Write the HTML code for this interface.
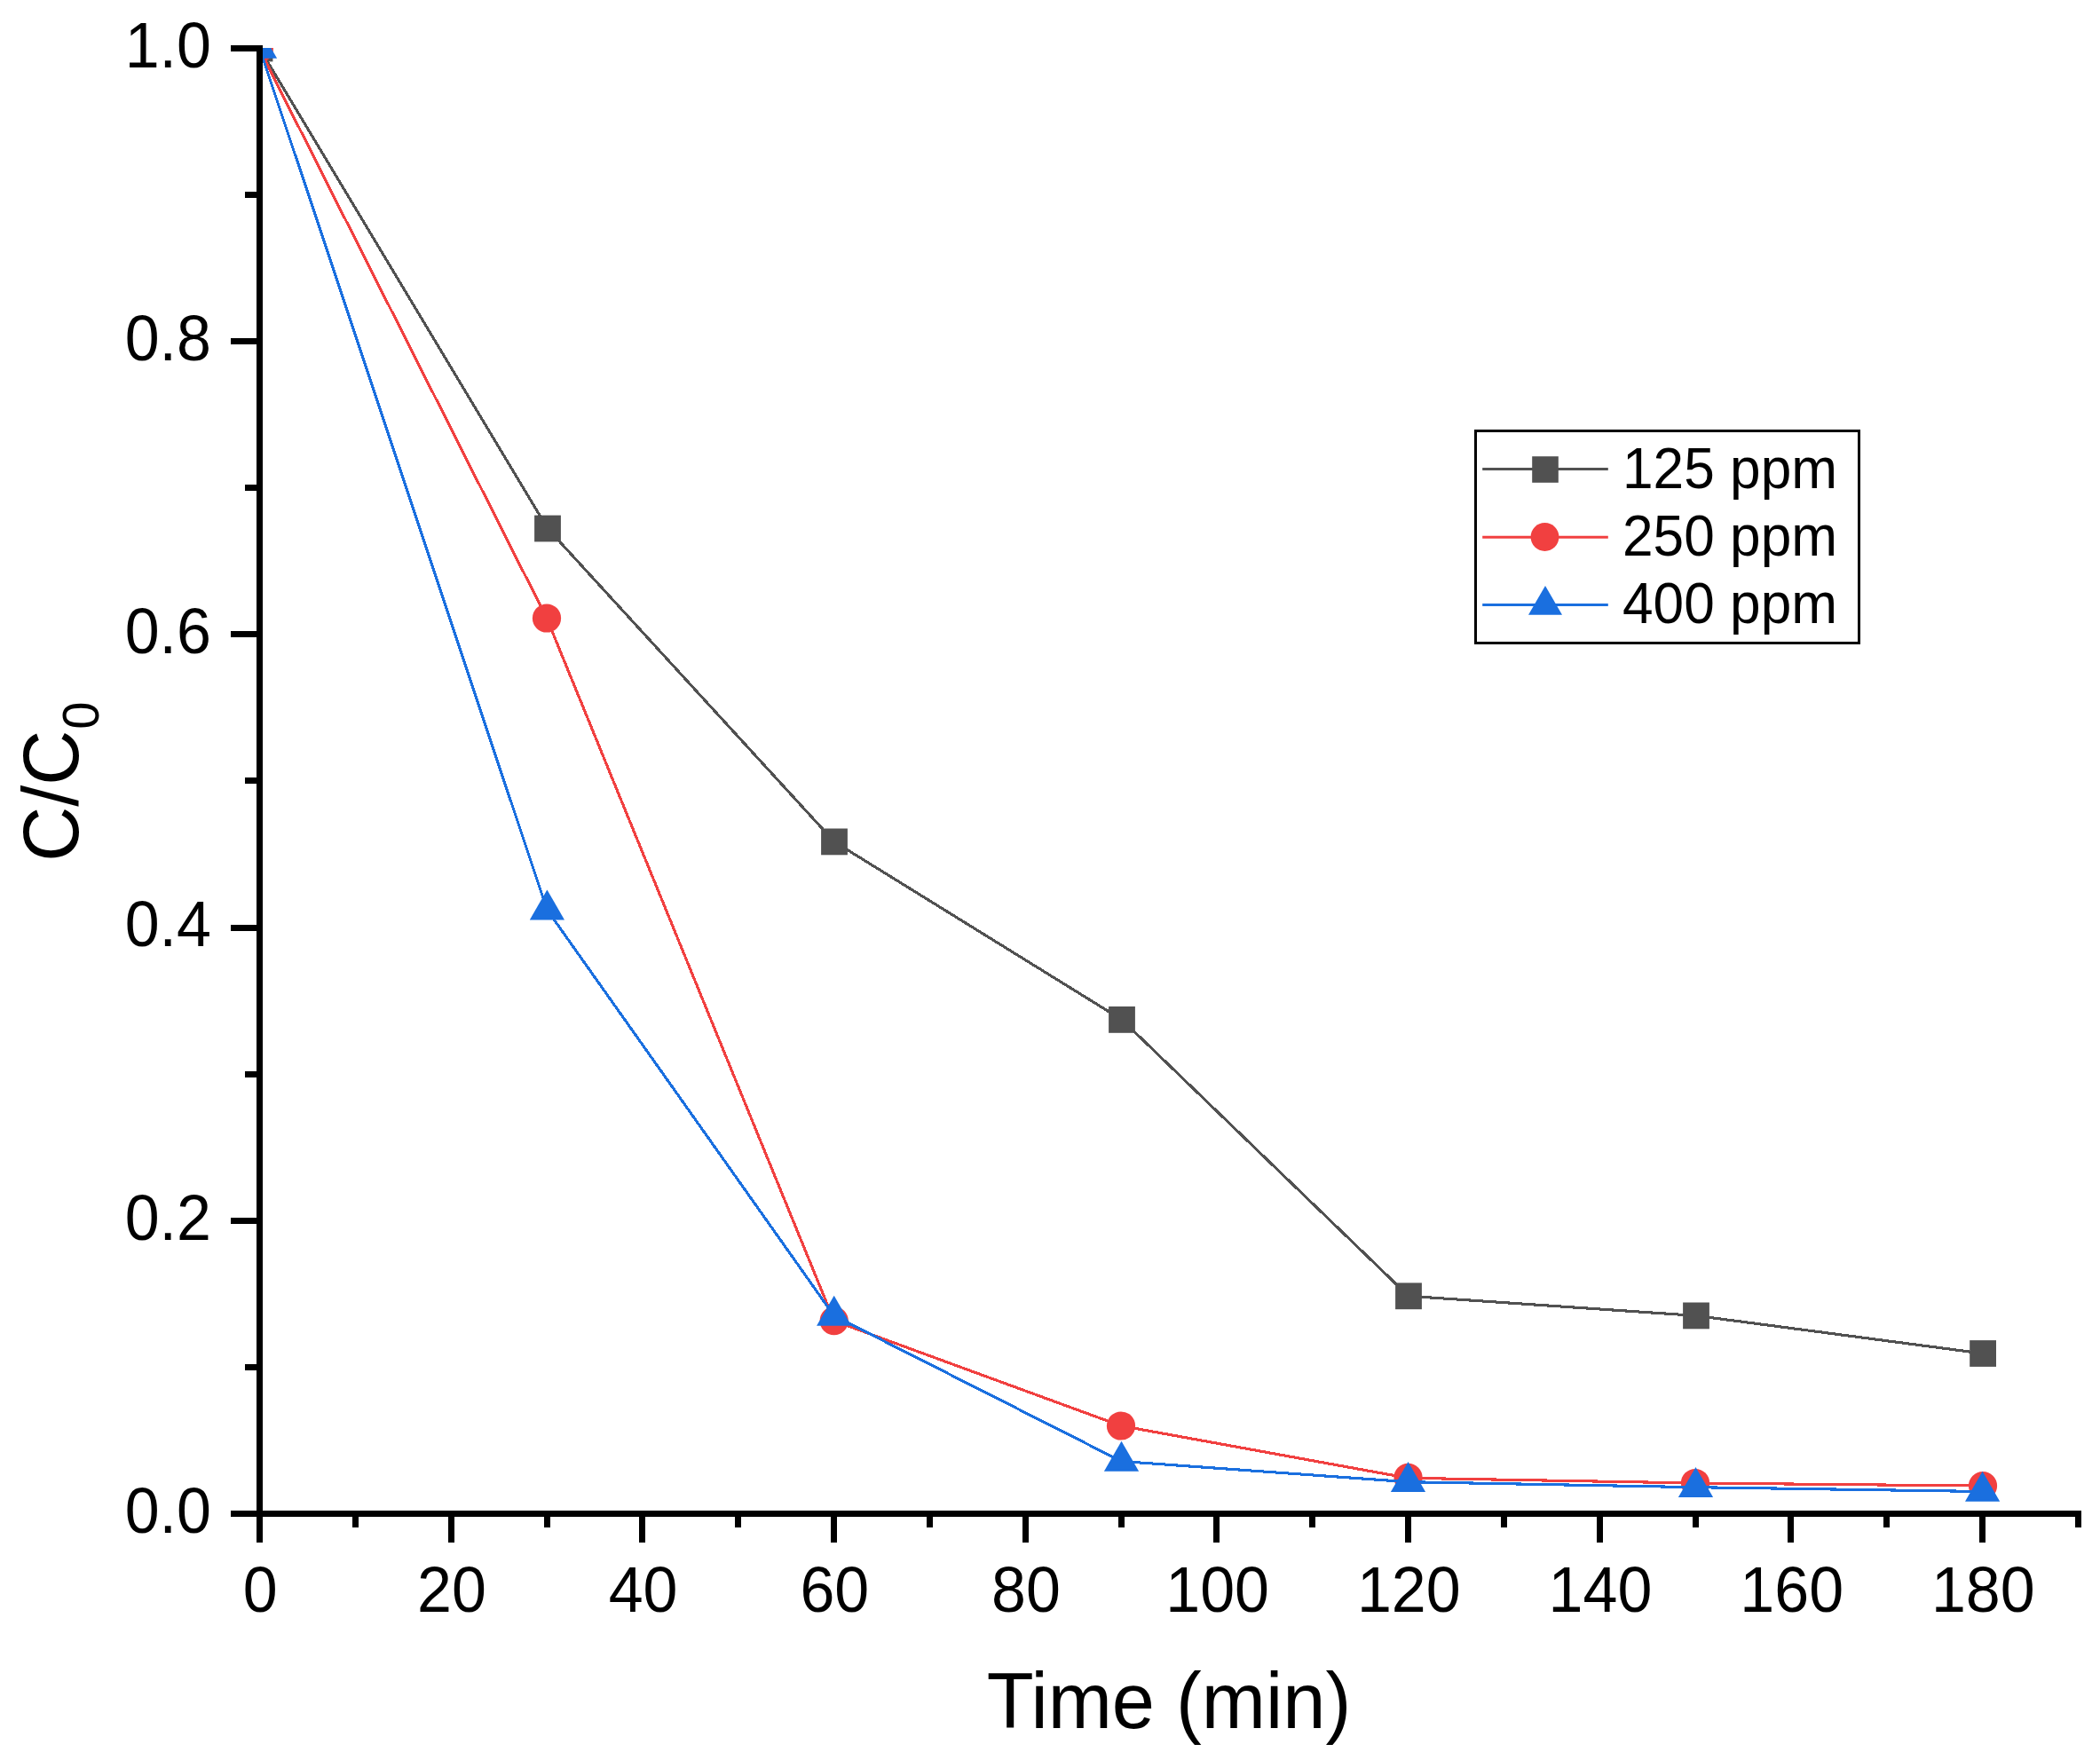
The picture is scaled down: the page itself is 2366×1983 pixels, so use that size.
<!DOCTYPE html>
<html lang="en"><head><meta charset="utf-8"><title>C/C0 vs Time</title>
<style>html,body{margin:0;padding:0;background:#fff}body{width:2366px;height:1983px;overflow:hidden}svg{display:block}text{font-family:"Liberation Sans",sans-serif;fill:#000}</style>
</head><body>
<svg width="2366" height="1983" viewBox="0 0 2366 1983">
<rect width="2366" height="1983" fill="#fff"/>
<defs><clipPath id="plot"><rect x="292.5" y="54" width="2060" height="1660"/></clipPath></defs>
<g clip-path="url(#plot)">
<g fill="#515151" stroke="none"><polyline points="292.5,54.5 617.0,595.5 940.0,948.4 1264.0,1148.9 1587.0,1460.3 1911.0,1482.4 2234.1,1525.0" fill="none" stroke="#515151" stroke-width="3.1" shape-rendering="crispEdges"/>
<rect x="277.6" y="39.6" width="29.8" height="29.8"/>
<rect x="602.1" y="580.6" width="29.8" height="29.8"/>
<rect x="925.1" y="933.5" width="29.8" height="29.8"/>
<rect x="1249.1" y="1134.0" width="29.8" height="29.8"/>
<rect x="1572.1" y="1445.4" width="29.8" height="29.8"/>
<rect x="1896.1" y="1467.5" width="29.8" height="29.8"/>
<rect x="2219.2" y="1510.1" width="29.8" height="29.8"/>
</g>
<g fill="#F14040" stroke="none"><polyline points="291.8,54.5 616.0,696.5 939.7,1488.2 1263.0,1606.5 1586.5,1665.3 1910.0,1671.0 2234.0,1674.1" fill="none" stroke="#F14040" stroke-width="3.1" shape-rendering="crispEdges"/>
<circle cx="291.8" cy="54.5" r="16.1"/>
<circle cx="616.0" cy="696.5" r="16.1"/>
<circle cx="939.7" cy="1488.2" r="16.1"/>
<circle cx="1263.0" cy="1606.5" r="16.1"/>
<circle cx="1586.5" cy="1664.8" r="16.1"/>
<circle cx="1910.0" cy="1671.0" r="16.1"/>
<circle cx="2234.0" cy="1674.1" r="16.1"/>
</g>
<g fill="#1A6FDF" stroke="none"><polyline points="292.5,54.5 616.4,1025.1 939.7,1482.5 1263.5,1646.5 1586.5,1669.7 1910.5,1675.7 2233.6,1680.5" fill="none" stroke="#1A6FDF" stroke-width="3.1" shape-rendering="crispEdges"/>
<polygon points="292.5,31.8 312.1,65.8 272.9,65.8"/>
<polygon points="616.4,1002.4 636.0,1036.4 596.8,1036.4"/>
<polygon points="939.7,1459.8 959.3,1493.8 920.1,1493.8"/>
<polygon points="1263.5,1623.8 1283.1,1657.8 1243.9,1657.8"/>
<polygon points="1586.5,1647.0 1606.1,1681.0 1566.9,1681.0"/>
<polygon points="1910.5,1653.0 1930.1,1687.0 1890.9,1687.0"/>
<polygon points="2233.6,1657.8 2253.2,1691.8 2214.0,1691.8"/>
</g></g>
<g fill="#000" shape-rendering="crispEdges">
<rect x="289" y="51" width="7" height="1687"/>
<rect x="260" y="1702" width="2085" height="7"/>
<rect x="260" y="1702" width="30" height="7"/>
<rect x="276" y="1537" width="14" height="7"/>
<rect x="260" y="1372" width="30" height="7"/>
<rect x="276" y="1207" width="14" height="7"/>
<rect x="260" y="1042" width="30" height="7"/>
<rect x="276" y="876" width="14" height="7"/>
<rect x="260" y="711" width="30" height="7"/>
<rect x="276" y="546" width="14" height="7"/>
<rect x="260" y="381" width="30" height="7"/>
<rect x="276" y="216" width="14" height="7"/>
<rect x="260" y="51" width="30" height="7"/>
<rect x="289" y="1708" width="7" height="30"/>
<rect x="397" y="1708" width="7" height="13"/>
<rect x="505" y="1708" width="7" height="30"/>
<rect x="613" y="1708" width="7" height="13"/>
<rect x="720" y="1708" width="7" height="30"/>
<rect x="828" y="1708" width="7" height="13"/>
<rect x="936" y="1708" width="7" height="30"/>
<rect x="1044" y="1708" width="7" height="13"/>
<rect x="1152" y="1708" width="7" height="30"/>
<rect x="1260" y="1708" width="7" height="13"/>
<rect x="1367" y="1708" width="7" height="30"/>
<rect x="1475" y="1708" width="7" height="13"/>
<rect x="1583" y="1708" width="7" height="30"/>
<rect x="1691" y="1708" width="7" height="13"/>
<rect x="1799" y="1708" width="7" height="30"/>
<rect x="1907" y="1708" width="7" height="13"/>
<rect x="2014" y="1708" width="7" height="30"/>
<rect x="2122" y="1708" width="7" height="13"/>
<rect x="2230" y="1708" width="7" height="30"/>
<rect x="2338" y="1708" width="7" height="13"/>
</g>
<text transform="translate(238.0,1726.8) scale(1,1.0405)" font-size="70" text-anchor="end">0.0</text>
<text transform="translate(238.0,1396.6) scale(1,1.0405)" font-size="70" text-anchor="end">0.2</text>
<text transform="translate(238.0,1066.4) scale(1,1.0405)" font-size="70" text-anchor="end">0.4</text>
<text transform="translate(238.0,736.2) scale(1,1.0405)" font-size="70" text-anchor="end">0.6</text>
<text transform="translate(238.0,406.0) scale(1,1.0405)" font-size="70" text-anchor="end">0.8</text>
<text transform="translate(238.0,75.8) scale(1,1.0405)" font-size="70" text-anchor="end">1.0</text>
<text transform="translate(293.3,1815.6) scale(1,1.0405)" font-size="70" text-anchor="middle">0</text>
<text transform="translate(509.0,1815.6) scale(1,1.0405)" font-size="70" text-anchor="middle">20</text>
<text transform="translate(724.6,1815.6) scale(1,1.0405)" font-size="70" text-anchor="middle">40</text>
<text transform="translate(940.3,1815.6) scale(1,1.0405)" font-size="70" text-anchor="middle">60</text>
<text transform="translate(1156.0,1815.6) scale(1,1.0405)" font-size="70" text-anchor="middle">80</text>
<text transform="translate(1371.6,1815.6) scale(1,1.0405)" font-size="70" text-anchor="middle">100</text>
<text transform="translate(1587.3,1815.6) scale(1,1.0405)" font-size="70" text-anchor="middle">120</text>
<text transform="translate(1803.0,1815.6) scale(1,1.0405)" font-size="70" text-anchor="middle">140</text>
<text transform="translate(2018.7,1815.6) scale(1,1.0405)" font-size="70" text-anchor="middle">160</text>
<text transform="translate(2234.3,1815.6) scale(1,1.0405)" font-size="70" text-anchor="middle">180</text>
<text transform="translate(1317.0,1946.8) scale(1,1.03)" font-size="86.6" text-anchor="middle">Time (min)</text>
<text transform="translate(88.0,880.7) rotate(-90) scale(1,1.0405)" font-size="86" text-anchor="middle">C/C<tspan font-size="56" dx="1" dy="22.1">0</tspan></text>
<rect x="1662.5" y="485.5" width="432" height="239" fill="#fff" stroke="#000" stroke-width="3" shape-rendering="crispEdges"/>
<line x1="1670.2" y1="528.5" x2="1811.8" y2="528.5" stroke="#515151" stroke-width="3"/>
<line x1="1670.2" y1="605.2" x2="1811.8" y2="605.2" stroke="#F14040" stroke-width="3"/>
<line x1="1670.2" y1="681.6" x2="1811.8" y2="681.6" stroke="#1A6FDF" stroke-width="3"/>
<rect x="1726.2" y="514.2" width="29.6" height="29.6" fill="#515151"/>
<circle cx="1740.5" cy="605" r="15.9" fill="#F14040"/>
<g fill="#1A6FDF"><polygon points="1741.0,659.9 1760.0,692.7 1722.0,692.7"/></g>
<text transform="translate(1828.0,549.8) scale(1,1.0405)" font-size="62.2" text-anchor="start">125 ppm</text>
<text transform="translate(1828.0,625.8) scale(1,1.0405)" font-size="62.2" text-anchor="start">250 ppm</text>
<text transform="translate(1828.0,701.9) scale(1,1.0405)" font-size="62.2" text-anchor="start">400 ppm</text>
</svg></body></html>
